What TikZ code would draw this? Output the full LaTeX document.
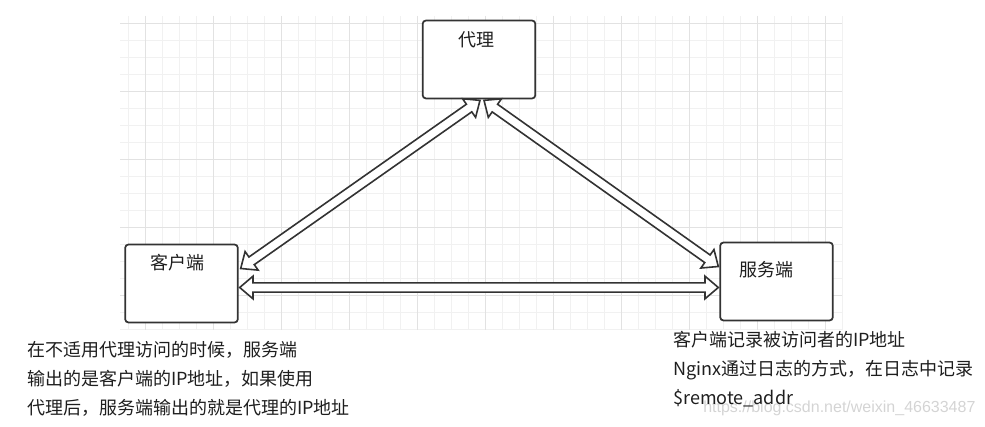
\documentclass[tikz,border=0pt]{standalone}
\usepackage{fontspec}
\setmainfont{Noto Sans CJK SC}
\newfontfamily\wmfont{Liberation Sans}
\usetikzlibrary{calc}
\definecolor{gridMinor}{RGB}{241,241,241}
\definecolor{gridMajor}{RGB}{226,226,226}
\definecolor{edgeGray}{RGB}{51,51,51}
\definecolor{txtGray}{RGB}{30,30,30}
\def\fhl{10pt}
\def\fhw{8.5pt}
\def\fsw{3.5pt}
\tikzset{
	pbox/.style={
		draw=edgeGray,
		line width=1.3pt,
		rounded corners=2.5pt,
		fill=white,
		minimum width=84.5pt,
		minimum height=58.5pt,
		inner sep=0pt
	},
	plabel/.style={font=\fontsize{13.5pt}{16pt}\selectfont, text=txtGray, inner sep=0pt},
	pnote/.style={font=\fontsize{13.5pt}{21.75pt}\selectfont, text=txtGray, align=left, inner sep=0pt, anchor=north west},
	flexbody/.style={draw=edgeGray, fill=white, line width=1.2pt, line join=miter}
}
% hollow double-headed block arrow between two named points
\newcommand\flexarrow[2]{%
	\path ($(#1)!\fhl!(#2)$) coordinate (fa-s) ($(#2)!\fhl!(#1)$) coordinate (fa-e);
	\draw[flexbody] (#1) -- ($(fa-s)!\fhw!90:(#2)$) -- ($(fa-s)!\fsw!90:(#2)$)
		-- ($(fa-e)!\fsw!-90:(#1)$) -- ($(fa-e)!\fhw!-90:(#1)$) -- (#2)
		-- ($(fa-e)!\fhw!90:(#1)$) -- ($(fa-e)!\fsw!90:(#1)$)
		-- ($(fa-s)!\fsw!-90:(#2)$) -- ($(fa-s)!\fhw!-90:(#2)$) -- cycle;
}

\begin{document}
\begin{tikzpicture}[x=0.75pt, y=-0.75pt]
	\useasboundingbox (0,0) rectangle (985,427);
	% grid paper
	\foreach \gx in {0,...,42}
		\draw[gridMinor, line width=0.75pt] ({128+17*\gx},16) -- ({128+17*\gx},330);
	\foreach \gy in {0,...,18}
		\draw[gridMinor, line width=0.75pt] (120,{24+17*\gy}) -- (842,{24+17*\gy});
	\foreach \gx in {0,...,10}
		\draw[gridMajor, line width=0.75pt] ({145+68*\gx},16) -- ({145+68*\gx},330);
	\foreach \gy in {0,...,4}
		\draw[gridMajor, line width=0.75pt] (120,{24+68*\gy}) -- (842,{24+68*\gy});

	% boxes
	\node[pbox] (proxy) at (479,59.5) {};
	\node[pbox] (client) at (181.5,283.5) {};
	\node[pbox] (server) at (776.5,281.5) {};
	\node[plabel] (proxy-t) at ($(proxy.north)+(-3,20)$) {代理};
	\node[plabel] (client-t) at ($(client.north)+(-4.5,19)$) {客户端};
	\node[plabel] (server-t) at ($(server.north)+(-10.5,28)$) {服务端};

	% arrow ends
	\coordinate (cl-up) at ($(client.east)+(2,-15)$);
	\coordinate (cl-mid) at ($(client.east)+(1,4)$);
	\coordinate (px-l) at ($(proxy.south)+(1,1)$);
	\coordinate (px-r) at ($(proxy.south)+(5,1)$);
	\coordinate (sv-up) at ($(server.west)+(-1,-15)$);
	\coordinate (sv-mid) at ($(server.west)+(-1,6)$);

	\flexarrow{cl-up}{px-l}
	\flexarrow{px-r}{sv-up}
	\flexarrow{cl-mid}{sv-mid}

	% notes
	\node[font=\wmfont\fontsize{12pt}{14pt}\selectfont, text=black!17, anchor=west, inner sep=0pt] (wm) at (703,408) {https://blog.csdn.net/weixin\_46633487};
	\node[pnote] (note-l) at (27,341) {在不适用代理访问的时候，服务端\\输出的是客户端的IP地址，如果使用\\代理后，服务端输出的就是代理的IP地址};
	\node[pnote] (note-r) at (673,331) {客户端记录被访问者的IP地址\\Nginx通过日志的方式，在日志中记录\\\$remote\_addr};
\end{tikzpicture}
\end{document}
